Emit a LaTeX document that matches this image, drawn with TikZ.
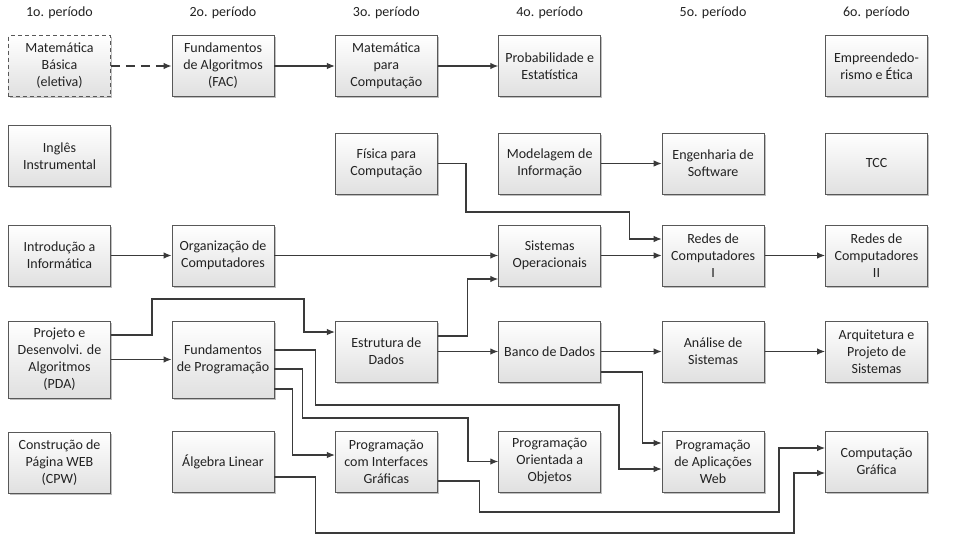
\documentclass[tikz,border=0pt]{standalone}
\usepackage{fontspec}
\setmainfont{Carlito}
\usetikzlibrary{arrows.meta,shadows}
\definecolor{lineC}{HTML}{3A3A3A}
\definecolor{boxC}{HTML}{585858}
\definecolor{fillB}{HTML}{E0E0E0}
\definecolor{txtC}{HTML}{222222}
\begin{document}
\begin{tikzpicture}[x=1pt,y=-1pt,
  subj/.style={draw=boxC, line width=0.9pt, top color=white, bottom color=fillB,
    minimum width=102pt, minimum height=61pt, inner sep=1pt, align=center,
    text=txtC, font=\fontsize{14}{17}\selectfont,
    drop shadow={shadow xshift=1.6pt, shadow yshift=-1.6pt, fill=black!45, opacity=0.55}},
  tall/.style={subj, minimum height=77pt},
  hdr/.style={text=txtC, font=\fontsize{14}{16}\selectfont},
  conn/.style={draw=lineC, line width=1.1pt, -{Latex[length=8pt,width=6.5pt]}},
]
\useasboundingbox[fill=white] (0,0) rectangle (960,538);
% headers
\node[hdr] (h1) at (59.5,13) {1o. período};
\node[hdr] (h2) at (223,13) {2o. período};
\node[hdr] (h3) at (386.3,13) {3o. período};
\node[hdr] (h4) at (549.7,13) {4o. período};
\node[hdr] (h5) at (713.1,13) {5o. período};
\node[hdr] (h6) at (876.5,13) {6o. período};
% row 1
\node[subj, dash pattern=on 4pt off 3pt] (mb) at (59.5,66) {Matemática\\Básica\\(eletiva)};
\node[subj] (fac) at (223,66) {Fundamentos\\de Algoritmos\\(FAC)};
\node[subj] (mpc) at (386.3,66) {Matemática\\para\\Computação};
\node[subj] (pe) at (549.7,66) {Probabilidade e\\Estatística};
\node[subj] (emp) at (876.5,66) {Empreendedo-\\rismo e Ética};
% row 2
\node[subj] (ing) at (59.5,156) {Inglês\\Instrumental};
\node[subj] (fis) at (386.3,163.5) {Física para\\Computação};
\node[subj] (mod) at (549.7,163.5) {Modelagem de\\Informação};
\node[subj] (eng) at (713.1,163.5) {Engenharia de\\Software};
\node[subj] (tcc) at (876.5,163.5) {TCC};
% row 3
\node[subj] (intro) at (59.5,255.5) {Introdução a\\Informática};
\node[subj] (org) at (223,255.5) {Organização de\\Computadores};
\node[subj] (so) at (549.7,255.5) {Sistemas\\Operacionais};
\node[subj] (rc1) at (713.1,255.5) {Redes de\\Computadores\\I};
\node[subj] (rc2) at (876.5,255.5) {Redes de\\Computadores\\II};
% row 4
\node[tall] (pda) at (59.5,359.5) {Projeto e\\Desenvolvi. de\\Algoritmos\\(PDA)};
\node[tall] (fp) at (223,359.5) {Fundamentos\\de Programação};
\node[subj] (ed) at (386.3,351.5) {Estrutura de\\Dados};
\node[subj] (bd) at (549.7,351.5) {Banco de Dados};
\node[subj] (as) at (713.1,351.5) {Análise de\\Sistemas};
\node[subj] (aps) at (876.5,351.5) {Arquitetura e\\Projeto de\\Sistemas};
% row 5
\node[subj] (cpw) at (59.5,462.5) {Construção de\\Página WEB\\(CPW)};
\node[subj] (alg) at (223,461.5) {Álgebra Linear};
\node[subj] (pig) at (386.3,461.5) {Programação\\com Interfaces\\Gráficas};
\node[subj] (poo) at (549.7,461.5) {Programação\\Orientada a\\Objetos};
\node[subj] (pw) at (713.1,461.5) {Programação\\de Aplicações\\Web};
\node[subj] (cg) at (876.5,461.5) {Computação\\Gráfica};
% connectors
\draw[conn, dash pattern=on 9pt off 6pt] (mb.east) -- (fac.west);
\draw[conn] (fac.east) -- (mpc.west);
\draw[conn] (mpc.east) -- (pe.west);
\draw[conn] (fis.east) -| (466,212) -| ([xshift=-32pt,yshift=16.5pt]rc1.west) -- ([yshift=16.5pt]rc1.west);
\draw[conn] (mod.east) -- (eng.west);
\draw[conn] (intro.east) -- (org.west);
\draw[conn] (org.east) -- (so.west);
\draw[conn] (so.east) -- (rc1.west);
\draw[conn] (rc1.east) -- (rc2.west);
\draw[conn] ([yshift=15.5pt]ed.east) -- ++(30,0) |- ([yshift=-23.5pt]so.west);
\draw[conn] ([yshift=24.5pt]pda.east) -- ++(41,0) |- (304,299) |- ([yshift=19.5pt]ed.west);
\draw[conn] (pda.east) -- (fp.west);
\draw[conn] (ed.east) -- (bd.west);
\draw[conn] (bd.east) -- (as.west);
\draw[conn] (as.east) -- (aps.west);
\draw[conn] ([yshift=9.5pt]fp.east) -- ++(41,0) |- (619,405) |- ([yshift=-7.5pt]pw.west);
\draw[conn] ([yshift=-20.5pt]bd.east) -- ++(41,0) |- ([yshift=18.5pt]pw.west);
\draw[conn] ([yshift=-9.5pt]fp.east) -- ++(28,0) |- (468,418) |- (poo.west);
\draw[conn] ([yshift=-29.5pt]fp.east) -- ++(18,0) |- ([yshift=6.5pt]pig.west);
\draw[conn] ([yshift=-19.5pt]pig.east) -- ++(42,0) |- (779,512) |- ([yshift=13.5pt]cg.west);
\draw[conn] ([yshift=-15.5pt]alg.east) -- ++(41,0) |- (794,533) |- ([yshift=-11.5pt]cg.west);
\end{tikzpicture}
\end{document}
